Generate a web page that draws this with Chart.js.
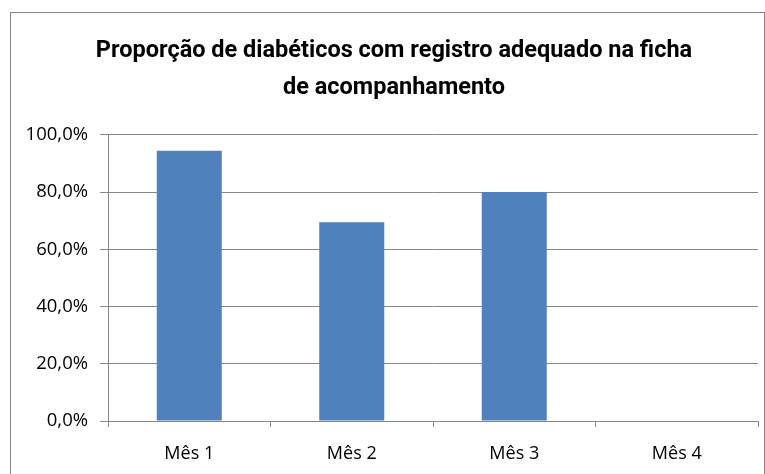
<!DOCTYPE html>
<html>
<head>
<meta charset="utf-8">
<script src="https://cdn.jsdelivr.net/npm/chart.js@4/dist/chart.umd.min.js"></script>
<style>
  html, body { margin: 0; padding: 0; background: #fff; }
  #wrap { width: 765px; height: 474px; }
</style>
</head>
<body>
<div id="wrap"><canvas id="chart"></canvas></div>
<script>
// data
const meses = ['Mês 1', 'Mês 2', 'Mês 3', 'Mês 4'];
const proporcao = [94.4, 69.5, 80.0, 0];
const tituloLinhas = ['Proporção de diabéticos com registro adequado na ficha', 'de acompanhamento'];

const cinza = '#868686';

// outer frame of the chart, and title nudged right like in the original
const moldura = {
    id: 'moldura',
    afterLayout(chart) {
        if (chart.titleBlock) chart.titleBlock.left = 30;
    },
    beforeDraw(chart) {
        const c = chart.ctx;
        c.save();
        c.fillStyle = '#fff';
        c.fillRect(0, 0, chart.width, chart.height);
        c.strokeStyle = cinza;
        c.lineWidth = 1;
        c.strokeRect(10.5, 12.5, 754, 470);
        c.restore();
    }
};

const ctx = document.getElementById('chart').getContext('2d');

const myChart = new Chart(ctx, {
    type: 'bar',
    data: {
        labels: meses,
        datasets: [{
            data: proporcao,
            backgroundColor: '#4F81BD',
            categoryPercentage: 0.4,
            barPercentage: 1.0
        }]
    },
    options: {
        responsive: true,
        maintainAspectRatio: false,
        animation: false,
        layout: { padding: { left: 0, right: 7, top: 0, bottom: 0 } },
        plugins: {
            legend: { display: false },
            tooltip: { enabled: false },
            title: {
                display: true,
                text: tituloLinhas,
                color: '#000',
                font: { family: "Roboto, 'Open Sans', sans-serif", size: 23.5, weight: 'bold', lineHeight: 1.55 },
                padding: { top: 33, bottom: 29 }
            }
        },
        scales: {
            x: {
                offset: true,
                grid: { offset: true, drawOnChartArea: false, drawTicks: true, tickLength: 6, color: cinza },
                border: { display: true, color: cinza },
                ticks: { color: '#000', padding: 16, font: { family: "'Open Sans', sans-serif", size: 18 } },
                afterFit(scale) { scale.height = 53; }
            },
            y: {
                min: 0,
                max: 100,
                ticks: {
                    stepSize: 20,
                    color: '#000',
                    padding: 12,
                    font: { family: "'Open Sans', sans-serif", size: 18.5 },
                    callback: v => v.toFixed(1).replace('.', ',') + '%'
                },
                grid: { color: cinza, tickLength: 8 },
                border: { display: true, color: cinza },
                afterFit(scale) { scale.width = 108; }
            }
        }
    },
    plugins: [moldura]
});
</script>
</body>
</html>
